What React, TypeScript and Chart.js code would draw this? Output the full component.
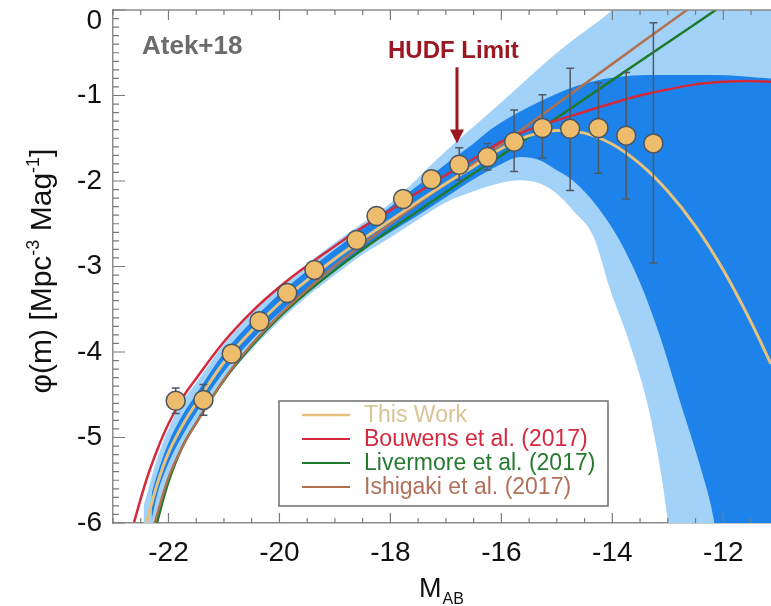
import React, { useEffect, useRef } from 'react';
import { Chart, registerables } from 'chart.js';

Chart.register(...registerables);

// ---------- data ----------
const xTicks = [-22, -20, -18, -16, -14, -12];
const yTicks = [0, -1, -2, -3, -4, -5, -6];

const pointMag = [-21.87, -21.37, -20.86, -20.36, -19.86, -19.37, -18.61, -18.25, -17.77, -17.26, -16.76, -16.25, -15.77, -15.26, -14.76, -14.25, -13.75, -13.26];
const pointPhi = [-4.57, -4.56, -4.02, -3.64, -3.31, -3.04, -2.69, -2.41, -2.21, -1.98, -1.81, -1.72, -1.54, -1.38, -1.39, -1.38, -1.47, -1.56];
const errUpper = [-4.42, -4.38, -3.95, -3.58, -3.26, -2.99, -2.64, -2.36, -2.14, -1.89, -1.61, -1.56, -1.17, -0.99, -0.68, -0.85, -0.73, -0.15];
const errLower = [-4.72, -4.74, -4.09, -3.70, -3.36, -3.09, -2.74, -2.46, -2.28, -2.07, -1.99, -1.87, -1.89, -1.73, -2.11, -1.91, -2.21, -2.96];

const thisWorkM = [-22.45, -22.2, -22, -21.75, -21.5, -21, -20.5, -20, -19.5, -19, -18.5, -18, -17.5, -17, -16.5, -16, -15.5, -15, -14.5, -14, -13.5, -13, -12.5, -12, -11.5, -11.14];
const thisWorkPhi = [-6.13, -5.54, -5.18, -4.86, -4.60, -4.12, -3.75, -3.43, -3.16, -2.91, -2.68, -2.46, -2.24, -2.03, -1.83, -1.62, -1.47, -1.41, -1.44, -1.57, -1.80, -2.12, -2.53, -3.04, -3.65, -4.14];

const bouwensM = [-22.62, -22.4, -22.2, -22, -21.75, -21.5, -21, -20.5, -20, -19.5, -19, -18.5, -18, -17.5, -17, -16.5, -16, -15.5, -15, -14.5, -14, -13.5, -13, -12.5, -12, -11.5, -11.14];
const bouwensPhi = [-5.99, -5.50, -5.14, -4.84, -4.54, -4.31, -3.88, -3.53, -3.24, -2.99, -2.76, -2.54, -2.34, -2.13, -1.93, -1.74, -1.54, -1.40, -1.29, -1.19, -1.09, -1.00, -0.93, -0.87, -0.84, -0.83, -0.84];

const livermoreM = [-22.21, -22, -21.75, -21.5, -21, -20.5, -20, -19.5, -19, -18.5, -18, -17.5, -17, -16.5, -16, -15, -14, -13, -12];
const livermorePhi = [-6.0, -5.52, -5.11, -4.83, -4.33, -3.93, -3.59, -3.30, -3.04, -2.80, -2.57, -2.35, -2.13, -1.91, -1.70, -1.26, -0.82, -0.38, 0.06];

const ishigakiM = [-22.25, -22, -21.75, -21.5, -21, -20.5, -20, -19.5, -19, -18.5, -18, -17.5, -17, -16.5, -16, -15, -14, -13, -12.4];
const ishigakiPhi = [-6.0, -5.47, -5.11, -4.83, -4.32, -3.91, -3.57, -3.27, -2.99, -2.74, -2.50, -2.26, -2.03, -1.80, -1.57, -1.10, -0.63, -0.16, 0.12];

const lightUpperM = [-22.7, -22.45, -22.2, -22, -21.75, -21.5, -21, -20.5, -20, -19.5, -19, -18.5, -18, -17, -16, -15, -14, -13, -12, -11.14];
const lightUpperPhi = [-6.35, -5.80, -5.24, -4.90, -4.58, -4.36, -3.91, -3.55, -3.24, -2.97, -2.72, -2.49, -2.26, -1.65, -1.08, -0.50, 0.0, 0.6, 1.0, 1.0];

const lightLowerM = [-22.45, -22.2, -22, -21.75, -21.5, -21, -20.5, -20, -19.5, -19, -18.5, -18, -17.5, -17, -16.5, -16, -15.66, -15.3, -15, -14.7, -14.34, -14.04, -13.73, -13.37, -13.14, -13.01, -12.9, -12.7, -11.14];
const lightLowerPhi = [-6.43, -5.84, -5.46, -5.12, -4.84, -4.34, -3.97, -3.64, -3.35, -3.10, -2.86, -2.66, -2.45, -2.25, -2.12, -2.02, -1.99, -2.03, -2.15, -2.35, -2.65, -3.27, -3.82, -4.60, -5.35, -5.93, -6.6, -7.5, -7.5];

const darkUpperM = [-22.6, -22.45, -22.2, -22, -21.75, -21.5, -21, -20.5, -20, -19.5, -19, -18.5, -18, -17.5, -17, -16.5, -16.2, -15.24, -14.45, -13.37, -12.18, -11.14];
const darkUpperPhi = [-6.36, -6.01, -5.42, -5.06, -4.74, -4.49, -4.01, -3.64, -3.32, -3.05, -2.80, -2.55, -2.30, -2.05, -1.80, -1.56, -1.40, -1.05, -0.85, -0.76, -0.76, -0.80];

const darkLowerM = [-22.3, -22.2, -22, -21.75, -21.5, -21, -20.5, -20, -19.5, -19, -18.5, -18, -17.5, -17, -16.5, -16, -15.66, -15.3, -15.06, -14.7, -14.27, -13.91, -13.5, -13.14, -12.77, -12.41, -12.18, -12.05, -11.9, -11.14];
const darkLowerPhi = [-5.95, -5.66, -5.30, -4.98, -4.71, -4.23, -3.86, -3.54, -3.27, -3.02, -2.80, -2.60, -2.40, -2.19, -1.98, -1.80, -1.72, -1.76, -1.85, -2.00, -2.30, -2.65, -3.19, -3.82, -4.60, -5.35, -5.93, -6.5, -7.5, -7.5];

const legendLabels = ['This Work', 'Bouwens et al. (2017)', 'Livermore et al. (2017)', 'Ishigaki et al. (2017)'];
const hudfLimitMag = -16.8;
const arrowTopPhi = -0.67;
const arrowTipPhi = -1.56;

// ---------- styles ----------
const FONT = '"Liberation Sans", Arial, Helvetica, sans-serif';
const LIGHT = '#A2D2F7';
const DARK = '#1D83EA';
const TAN = '#E8C27C';
const RED = '#D42A3C';
const GREEN = '#1E7A2C';
const BROWN = '#B3704F';
const AXIS = '#8C8C8C';
const legendColors = [TAN, RED, GREEN, BROWN];
const legendTextColors = ['#D8C495', '#D4283E', '#257A30', '#B0705A'];

const toXY = (xs: number[], ys: number[]) => xs.map((x, i) => ({ x, y: ys[i] }));

const POINTS_INDEX = 8;

const decor = {
  id: 'decor',
  beforeDatasetDraw(chart: any, args: any) {
    if (args.index !== POINTS_INDEX) return;
    const { ctx, scales } = chart;
    const xs = scales.x;
    const ys = scales.y;
    ctx.save();
    ctx.strokeStyle = '#4E5964';
    ctx.lineWidth = 1.5;
    for (let i = 0; i < pointMag.length; i++) {
      const px = xs.getPixelForValue(pointMag[i]);
      const y1 = ys.getPixelForValue(errUpper[i]);
      const y2 = ys.getPixelForValue(errLower[i]);
      ctx.beginPath();
      ctx.moveTo(px, y1);
      ctx.lineTo(px, y2);
      ctx.moveTo(px - 4, y1);
      ctx.lineTo(px + 4, y1);
      ctx.moveTo(px - 4, y2);
      ctx.lineTo(px + 4, y2);
      ctx.stroke();
    }
    ctx.restore();
  },
  afterDatasetsDraw(chart: any) {
    const { ctx, chartArea, scales } = chart;
    const xs = scales.x;
    const ys = scales.y;
    const { left, right, top, bottom } = chartArea;
    ctx.save();
    // top border
    ctx.strokeStyle = AXIS;
    ctx.lineWidth = 1.5;
    ctx.beginPath();
    ctx.moveTo(left, top);
    ctx.lineTo(right, top);
    ctx.stroke();
    // inward tick marks
    ctx.strokeStyle = '#7A7A7A';
    ctx.lineWidth = 1.2;
    ctx.beginPath();
    for (let i = -46; i <= -23; i++) {
      const v = i / 2;
      const px = xs.getPixelForValue(v);
      if (px < left || px > right) continue;
      const major = i % 4 === 0;
      const len = major ? 10 : 5;
      ctx.moveTo(px, bottom);
      ctx.lineTo(px, bottom - len);
      ctx.moveTo(px, top);
      ctx.lineTo(px, top + len);
    }
    for (let i = -60; i <= 0; i++) {
      const py = ys.getPixelForValue(i / 10);
      const major = i % 10 === 0;
      const len = major ? 12 : 6;
      ctx.moveTo(left, py);
      ctx.lineTo(left + len, py);
    }
    ctx.stroke();

    // HUDF arrow
    const ax = xs.getPixelForValue(hudfLimitMag);
    const aTop = ys.getPixelForValue(arrowTopPhi);
    const aTip = ys.getPixelForValue(arrowTipPhi);
    ctx.strokeStyle = '#9B1822';
    ctx.fillStyle = '#9B1822';
    ctx.lineWidth = 3;
    ctx.beginPath();
    ctx.moveTo(ax, aTop);
    ctx.lineTo(ax, aTip - 12);
    ctx.stroke();
    ctx.beginPath();
    ctx.moveTo(ax - 7, aTip - 14);
    ctx.lineTo(ax + 7, aTip - 14);
    ctx.lineTo(ax, aTip);
    ctx.closePath();
    ctx.fill();

    // annotations
    ctx.textBaseline = 'alphabetic';
    ctx.textAlign = 'left';
    ctx.fillStyle = '#6B6B6B';
    ctx.font = `bold 26px ${FONT}`;
    ctx.fillText('Atek+18', 142, 54);
    ctx.fillStyle = '#9B1822';
    ctx.font = `bold 24px ${FONT}`;
    ctx.fillText('HUDF Limit', 388, 58);

    // legend box
    const bx = 279, by = 401, bw = 329, bh = 105;
    ctx.fillStyle = '#FFFFFF';
    ctx.fillRect(bx, by, bw, bh);
    ctx.strokeStyle = '#6E6E6E';
    ctx.lineWidth = 1.5;
    ctx.strokeRect(bx, by, bw, bh);
    ctx.font = `23px ${FONT}`;
    ctx.textBaseline = 'middle';
    for (let i = 0; i < legendLabels.length; i++) {
      const ry = 415 + i * 24;
      ctx.strokeStyle = legendColors[i];
      ctx.lineWidth = i === 0 ? 2.5 : 2.2;
      ctx.beginPath();
      ctx.moveTo(302, ry);
      ctx.lineTo(350, ry);
      ctx.stroke();
      ctx.fillStyle = legendTextColors[i];
      ctx.fillText(legendLabels[i], 364, ry + 1);
    }
    ctx.restore();
  },
  afterDraw(chart: any) {
    const { ctx, chartArea, scales } = chart;
    ctx.save();
    ctx.fillStyle = '#111';
    // tick labels
    ctx.font = `28px ${FONT}`;
    ctx.textAlign = 'center';
    ctx.textBaseline = 'middle';
    for (const v of xTicks) {
      ctx.fillText(String(v), scales.x.getPixelForValue(v), chartArea.bottom + 30);
    }
    ctx.textAlign = 'right';
    for (const v of yTicks) {
      const py = Math.max(scales.y.getPixelForValue(v), 21);
      ctx.fillText(String(v), chartArea.left - 11, py);
    }
    ctx.textBaseline = 'alphabetic';
    // x title M_AB
    ctx.font = `27px ${FONT}`;
    ctx.textAlign = 'left';
    ctx.fillText('M', 419, 597);
    const mw = ctx.measureText('M').width;
    ctx.font = `16px ${FONT}`;
    ctx.fillText('AB', 419 + mw + 1, 604);
    // y title
    ctx.translate(51, 271);
    ctx.rotate(-Math.PI / 2);
    const parts: [string, boolean][] = [['\u03C6(m) [Mpc', false], ['-3', true], [' Mag', false], ['-1', true], [']', false]];
    const big = `30px ${FONT}`;
    const small = `18px ${FONT}`;
    let total = 0;
    for (const [t, sup] of parts) {
      ctx.font = sup ? small : big;
      total += ctx.measureText(t).width;
    }
    let cx = -total / 2;
    for (const [t, sup] of parts) {
      ctx.font = sup ? small : big;
      ctx.fillText(t, cx, sup ? -12 : 0);
      cx += ctx.measureText(t).width;
    }
    ctx.restore();
  },
};

export default function App() {
  const ref = useRef<HTMLCanvasElement>(null);
  useEffect(() => {
    const canvas = ref.current;
    if (!canvas) return;
    const edge = (xs: number[], ys: number[], order: number, fill: any, color: string) => ({
      data: toXY(xs, ys),
      borderColor: 'rgba(0,0,0,0)',
      borderWidth: 0,
      backgroundColor: color,
      pointRadius: 0,
      fill,
      order,
      cubicInterpolationMode: 'monotone' as const,
    });
    const curve = (xs: number[], ys: number[], color: string, width: number, order: number) => ({
      data: toXY(xs, ys),
      borderColor: color,
      borderWidth: width,
      pointRadius: 0,
      fill: false,
      order,
      tension: 0.4,
    });
    const chart = new Chart(canvas, {
      type: 'line',
      data: {
        datasets: [
          edge(lightUpperM, lightUpperPhi, 10, 1, LIGHT),
          edge(lightLowerM, lightLowerPhi, 10, false, LIGHT),
          edge(darkUpperM, darkUpperPhi, 9, 3, DARK),
          edge(darkLowerM, darkLowerPhi, 9, false, DARK),
          curve(livermoreM, livermorePhi, GREEN, 2.5, 5),
          curve(ishigakiM, ishigakiPhi, BROWN, 2.5, 4),
          curve(bouwensM, bouwensPhi, RED, 2.5, 3),
          curve(thisWorkM, thisWorkPhi, TAN, 3, 2),
          {
            data: toXY(pointMag, pointPhi),
            showLine: false,
            pointRadius: 9.5,
            pointBackgroundColor: '#EDBC6C',
            pointBorderColor: '#4A5560',
            pointBorderWidth: 1.5,
            order: 0,
          },
        ] as any,
      },
      options: {
        responsive: false,
        animation: false,
        events: [],
        layout: { autoPadding: false, padding: { top: 10, right: 0, left: 0, bottom: 0 } },
        plugins: { legend: { display: false }, tooltip: { enabled: false } },
        scales: {
          x: {
            type: 'linear',
            min: -23,
            max: -11.14,
            afterBuildTicks: (s: any) => {
              s.ticks = xTicks.map((v) => ({ value: v }));
            },
            afterFit: (s: any) => {
              s.height = 83;
            },
            grid: { display: false, drawTicks: false },
            border: { display: true, color: AXIS, width: 1.5 },
            ticks: { display: false },
          },
          y: {
            type: 'linear',
            min: -6,
            max: 0,
            afterBuildTicks: (s: any) => {
              s.ticks = yTicks.map((v) => ({ value: v }));
            },
            afterFit: (s: any) => {
              s.width = 113;
            },
            grid: { display: false, drawTicks: false },
            border: { display: true, color: AXIS, width: 1.5 },
            ticks: { display: false },
          },
        },
      } as any,
      plugins: [decor],
    });
    return () => chart.destroy();
  }, []);
  return (
    <div style={{ position: 'fixed', left: 0, top: 0, width: 771, height: 606, background: '#fff' }}>
      <canvas ref={ref} width={771} height={606} style={{ width: 771, height: 606, display: 'block' }} />
    </div>
  );
}
